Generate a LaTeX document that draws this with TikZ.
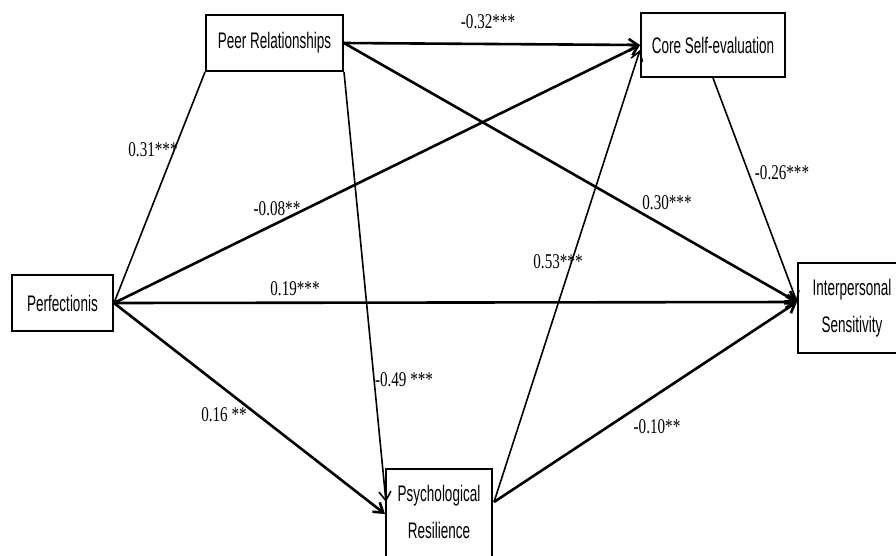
\documentclass[tikz,border=0pt]{standalone}
\usepackage{fontspec}
\setmainfont{Liberation Serif}[FakeStretch=0.72]
\newfontfamily\boxfont{Liberation Sans}[FakeStretch=0.6]
\usetikzlibrary{arrows.meta,calc}
\begin{document}
\begin{tikzpicture}[x=1pt,y=-1pt,
  box/.style={draw, line width=2pt, font=\boxfont\fontsize{22.5}{37}\selectfont, align=center, inner sep=0pt},
  boxtext/.style={font=\boxfont\fontsize{22.5}{37}\selectfont, align=center, inner sep=0pt},
  arrT/.style={line width=2.6pt, -{Straight Barb[length=9pt,width=12pt]}},
  arrN/.style={line width=1.6pt, -{Straight Barb[length=9pt,width=12pt]}},
  lineN/.style={line width=1.6pt},
  lbl/.style={font=\fontsize{21}{24}\selectfont, inner sep=0pt}]
\useasboundingbox (0,0) rectangle (896,555);
\clip (0,0) rectangle (896,555);
\fill[white] (0,0) rectangle (896,555);
% boxes
\node[box, minimum width=137pt, minimum height=56pt] (peer) at (274.5,43) {Peer Relationships};
\node[box, minimum width=144pt, minimum height=64pt] (core) at (713,45) {Core Self-evaluation};
\node[box, minimum width=101pt, minimum height=56pt] (perf) at (62.5,303) {Perfectionis};
\node[box, minimum width=108pt, minimum height=90pt] (inter) at (852,308) {Interpersonal\\Sensitivity};
\node[box, minimum width=106pt, minimum height=100pt] (psych) at (439,519) {};
\node[boxtext] (psychtxt) at (439,511.5) {Psychological\\Resilience};
% named end points
\coordinate (interIn) at ($(inter.west)+(0,-6)$);
\coordinate (coreInLow) at ($(core.west)+(0,5)$);
\coordinate (psychInA) at ($(psych.north west)+(1,34)$);
\coordinate (psychInB) at ($(psych.north west)+(0,46)$);
\coordinate (psychOut) at ($(psych.north east)+(1,34)$);
% connectors
\draw[lineN] (perf.east) -- (peer.south west);
\draw[arrT] (perf.east) -- (core.west);
\draw[arrT] (peer.east) -- (core.west);
\draw[arrT] (peer.east) -- (interIn);
\draw[arrN] (peer.south east) -- (psychInA);
\draw[arrT] (perf.east) -- (interIn);
\draw[arrT] (perf.east) -- (psychInB);
\draw[arrN] (psychOut) -- (coreInLow);
\draw[arrT] (psychOut) -- (interIn);
\draw[arrN] (core.south) -- (interIn);
% labels
\node[lbl] (l1) at (488,22) {-0.32***};
\node[lbl] (l2) at (153,150) {0.31***};
\node[lbl] (l3) at (277,209) {-0.08**};
\node[lbl] (l4) at (295,289) {0.19***};
\node[lbl] (l5) at (667,203) {0.30***};
\node[lbl] (l6) at (782,173) {-0.26***};
\node[lbl] (l7) at (558,262) {0.53***};
\node[lbl] (l8) at (404,380) {-0.49 ***};
\node[lbl] (l9) at (224,415) {0.16 **};
\node[lbl] (l10) at (657,427) {-0.10**};
\end{tikzpicture}
\end{document}
